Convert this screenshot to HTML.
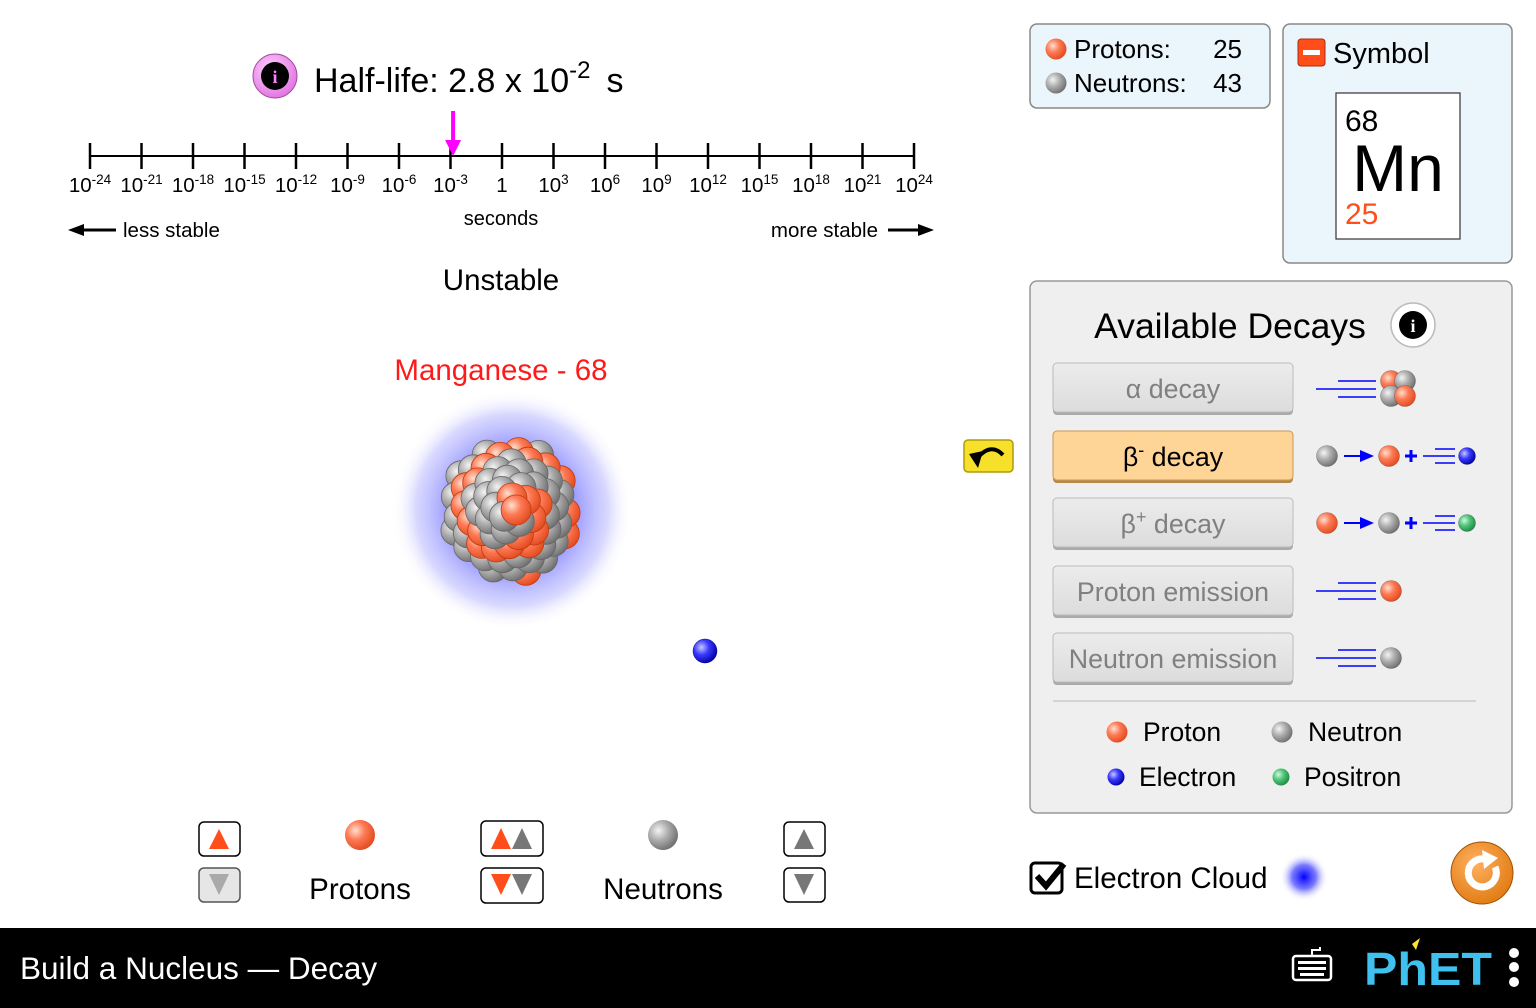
<!DOCTYPE html>
<html><head><meta charset="utf-8"><style>
html,body{margin:0;padding:0;width:1536px;height:1008px;overflow:hidden;background:#fff}
svg{display:block;font-family:"Liberation Sans",Arial,sans-serif}
</style></head><body>
<svg id="s" width="1536" height="1008" viewBox="0 0 1536 1008" xmlns="http://www.w3.org/2000/svg">
<defs>
<radialGradient id="gp" cx="0.35" cy="0.35" r="0.7"><stop offset="0" stop-color="#ffe0d0"/><stop offset="0.45" stop-color="#fd7a55"/><stop offset="1" stop-color="#e24a1e"/></radialGradient>
<radialGradient id="gn" cx="0.35" cy="0.35" r="0.7"><stop offset="0" stop-color="#f4f4f4"/><stop offset="0.45" stop-color="#b0b0b0"/><stop offset="1" stop-color="#6e6e6e"/></radialGradient>
<radialGradient id="ge" cx="0.35" cy="0.35" r="0.7"><stop offset="0" stop-color="#c8c8ff"/><stop offset="0.45" stop-color="#3a3aff"/><stop offset="1" stop-color="#0000a0"/></radialGradient>
<radialGradient id="gpo" cx="0.35" cy="0.35" r="0.7"><stop offset="0" stop-color="#d4f5de"/><stop offset="0.45" stop-color="#4fc87a"/><stop offset="1" stop-color="#1f8a45"/></radialGradient>
<radialGradient id="cloud" cx="0.5" cy="0.5" r="0.5"><stop offset="0" stop-color="#5a5aff"/><stop offset="0.5" stop-color="#8080ff" stop-opacity="0.85"/><stop offset="0.8" stop-color="#b0b0ff" stop-opacity="0.5"/><stop offset="1" stop-color="#ffffff" stop-opacity="0"/></radialGradient>
<radialGradient id="cloud2" cx="0.5" cy="0.5" r="0.5"><stop offset="0" stop-color="#0000ff"/><stop offset="0.5" stop-color="#4040ff" stop-opacity="0.7"/><stop offset="1" stop-color="#fff" stop-opacity="0"/></radialGradient>
<radialGradient id="greset" cx="0.4" cy="0.35" r="0.7"><stop offset="0" stop-color="#ffb060"/><stop offset="1" stop-color="#e07a10"/></radialGradient>
<radialGradient id="ginfo" cx="0.4" cy="0.35" r="0.7"><stop offset="0" stop-color="#ffd0ff"/><stop offset="1" stop-color="#e070e0"/></radialGradient>
<linearGradient id="gbtn" x1="0" y1="0" x2="0" y2="1"><stop offset="0" stop-color="#ececec"/><stop offset="1" stop-color="#dcdcdc"/></linearGradient>
</defs>

<g>
<circle cx="275" cy="76" r="22" fill="url(#ginfo)" stroke="#a050a0"/>
<circle cx="275" cy="76" r="14" fill="#000"/>
<text x="275" y="83" font-size="18" font-weight="bold" fill="#ff80ff" text-anchor="middle" font-family="Liberation Serif">i</text>
<text x="314" y="92" font-size="34">Half-life: 2.8 x 10<tspan dy="-14" font-size="24">-2</tspan><tspan dy="14" dx="16">s</tspan></text>
</g>
<g id="axis"></g>
<text x="501" y="225" font-size="20" text-anchor="middle">seconds</text>
<g>
<line x1="80" y1="230" x2="116" y2="230" stroke="#000" stroke-width="3"/><polygon points="68,230 84,224 84,236" fill="#000"/>
<text x="123" y="237" font-size="20.5">less stable</text></g>
<g>
<text x="878" y="237" font-size="20.5" text-anchor="end">more stable</text>
<line x1="888" y1="230" x2="924" y2="230" stroke="#000" stroke-width="3"/><polygon points="934,230 918,224 918,236" fill="#000"/></g>

<text x="501" y="290" font-size="29.5" text-anchor="middle">Unstable</text>
<text x="501" y="380" font-size="29.5" fill="#ff1a1a" text-anchor="middle">Manganese - 68</text>

<circle cx="512" cy="510" r="120" fill="url(#cloud)"/>
<g id="nuc"></g>
<circle cx="705" cy="651" r="12" fill="url(#ge)" stroke="#0000a0" stroke-width="0.5"/>

<g><rect x="199" y="822" width="41" height="34" rx="5" fill="#fff" stroke="#000" stroke-width="1.5"/><polygon points="219,829 229,849 209,849" fill="#ff4e1a"/></g>
<g><rect x="199" y="868" width="41" height="34" rx="5" fill="#e6e6e6" stroke="#555" stroke-width="1.5"/><polygon points="209,874 229,874 219,895" fill="#aaa"/></g>
<circle cx="360" cy="835" r="15" fill="url(#gp)"/>
<text x="360" y="899" font-size="29.5" text-anchor="middle">Protons</text>
<g><rect x="481" y="821" width="62" height="35" rx="5" fill="#fff" stroke="#000" stroke-width="1.5"/><polygon points="501,828 511,849 491,849" fill="#ff4e1a"/><polygon points="522,828 532,849 512,849" fill="#777"/></g>
<g><rect x="481" y="868" width="62" height="35" rx="5" fill="#fff" stroke="#000" stroke-width="1.5"/><polygon points="491,874 511,874 501,895" fill="#ff4e1a"/><polygon points="512,874 532,874 522,895" fill="#777"/></g>
<circle cx="663" cy="835" r="15" fill="url(#gn)"/>
<text x="663" y="899" font-size="29.5" text-anchor="middle">Neutrons</text>
<g><rect x="784" y="822" width="41" height="34" rx="5" fill="#fff" stroke="#000" stroke-width="1.5"/><polygon points="804,829 814,849 794,849" fill="#777"/></g>
<g><rect x="784" y="868" width="41" height="34" rx="5" fill="#fff" stroke="#000" stroke-width="1.5"/><polygon points="794,874 814,874 804,895" fill="#777"/></g>

<g>
<rect x="1030" y="24" width="240" height="84" rx="7" fill="#ebf6fc" stroke="#888" stroke-width="1.5"/>
<circle cx="1056" cy="49" r="10.5" fill="url(#gp)"/><text x="1074" y="58" font-size="26">Protons:</text><text x="1242" y="58" font-size="26" text-anchor="end">25</text>
<circle cx="1056" cy="83" r="10.5" fill="url(#gn)"/><text x="1074" y="92" font-size="26">Neutrons:</text><text x="1242" y="92" font-size="26" text-anchor="end">43</text>
</g>
<g>
<rect x="1283" y="24" width="229" height="239" rx="7" fill="#ebf6fc" stroke="#888" stroke-width="1.5"/>
<g><rect x="1298" y="39" width="27" height="27" rx="3" fill="#ff4e1a" stroke="#a03010"/><rect x="1303" y="50" width="17" height="5" fill="#fff"/></g>
<text x="1333" y="63" font-size="29">Symbol</text>
<rect x="1336" y="93" width="124" height="146" fill="#fff" stroke="#333" stroke-width="1.2"/>
<text x="1345" y="131" font-size="30">68</text>
<text x="1398" y="191" font-size="66" text-anchor="middle">Mn</text>
<text x="1345" y="224" font-size="30" fill="#ff4e1a">25</text>
</g>

<g>
<rect x="964" y="440" width="49" height="32" rx="4" fill="#f6e02a" stroke="#b09a10" stroke-width="1.5"/>
<path d="M975,461 Q990,441 1003,455" fill="none" stroke="#000" stroke-width="4"/>
<polygon points="969,454 983,451 978,468" fill="#000"/>
</g>

<g>
<rect x="1030" y="281" width="482" height="532" rx="7" fill="#efefef" stroke="#999" stroke-width="1.5"/>
<text x="1230" y="338" font-size="35.5" text-anchor="middle">Available Decays</text>
<g><circle cx="1413" cy="325" r="22" fill="#fff" stroke="#bbb" stroke-width="1.5"/><circle cx="1413" cy="325" r="14" fill="#000"/><text x="1413" y="332" font-size="18" font-weight="bold" fill="#fff" text-anchor="middle" font-family="Liberation Serif">i</text></g>
<g id="btns"></g>
<line x1="1053" y1="701" x2="1476" y2="701" stroke="#ccc" stroke-width="1.5"/>
<g>
<circle cx="1117" cy="732" r="10.5" fill="url(#gp)"/><text x="1143" y="741" font-size="26.5">Proton</text>
<circle cx="1282" cy="732" r="10.5" fill="url(#gn)"/><text x="1308" y="741" font-size="26.5">Neutron</text>
<circle cx="1116" cy="777" r="8.5" fill="url(#ge)"/><text x="1139" y="786" font-size="26.5">Electron</text>
<circle cx="1281" cy="777" r="8.5" fill="url(#gpo)"/><text x="1304" y="786" font-size="26.5">Positron</text>
</g>
</g>

<g>
<rect x="1031" y="863" width="31" height="30" rx="4" fill="#fff" stroke="#000" stroke-width="3"/>
<path d="M1037,876 L1046,886 L1064,864" fill="none" stroke="#000" stroke-width="6"/>
<text x="1074" y="888" font-size="29.5">Electron Cloud</text>
<circle cx="1304" cy="877" r="24" fill="url(#cloud2)"/>
</g>
<g>
<circle cx="1482" cy="873" r="31" fill="url(#greset)" stroke="#a05008"/>
<path d="M1495,867 A14,14 0 1 1 1484,859" fill="none" stroke="#fff" stroke-width="7"/>
<polygon points="1482,850 1498,858 1484,869" fill="#fff"/>
</g>

<rect x="0" y="928" width="1536" height="80" fill="#000"/>
<text x="20" y="979" font-size="31.5" fill="#fff">Build a Nucleus — Decay</text>
<g>
<rect x="1293" y="956" width="38" height="24" rx="3" fill="none" stroke="#fff" stroke-width="2.5"/>
<path d="M1312,955 v-5 h8 v-3" fill="none" stroke="#fff" stroke-width="2"/>
<g fill="#fff"><rect x="1298" y="961" width="28" height="3"/><rect x="1298" y="967" width="28" height="3"/><rect x="1300" y="973" width="24" height="3"/></g>
</g>
<g>
<text x="1364" y="985" font-size="46" font-weight="bold" fill="#3fc0ee" textLength="128" lengthAdjust="spacingAndGlyphs">PhET</text>
<polygon points="1412,944 1420,938 1416,950" fill="#fde32a"/>
<circle cx="1514" cy="953" r="5" fill="#fff"/><circle cx="1514" cy="967" r="5" fill="#fff"/><circle cx="1514" cy="982" r="5" fill="#fff"/>
</g>
</svg>
<script>
const tickExponents = [-24,-21,-18,-15,-12,-9,-6,-3,0,3,6,9,12,15,18,21,24];
const tickLabels = ["10-24","10-21","10-18","10-15","10-12","10-9","10-6","10-3","1","103","106","109","1012","1015","1018","1021","1024"];
const halfLifeLog = [-2.85];

const NS='http://www.w3.org/2000/svg';
function mk(tag,attrs,parent){const e=document.createElementNS(NS,tag);for(const k in attrs)e.setAttribute(k,attrs[k]);parent.appendChild(e);return e;}
const x0=90,x1=914,dmin=-24,dmax=24,axisY=156;
function xScale(v){return x0+(v-dmin)/(dmax-dmin)*(x1-x0);}
const ax=document.getElementById('axis');
const base=mk('line',{x1:x0,y1:axisY,x2:x1,y2:axisY,stroke:'#000','stroke-width':2},ax);


tickExponents.forEach((e,i)=>{
  const x=xScale(e);
  const t=mk('line',{x1:x,y1:axisY-13,x2:x,y2:axisY+13,stroke:'#000','stroke-width':2.5},ax);
  
  
  const lb=mk('text',{x:x,y:192,'font-size':20.5,'text-anchor':'middle'},ax);
  
  
  if(e===0){lb.textContent='1';}
  else{lb.appendChild(document.createTextNode('10'));const sp=mk('tspan',{dy:-8,'font-size':13.5},lb);sp.textContent=tickLabels[i].slice(2);}
});
halfLifeLog.forEach(v=>{
  const x=xScale(v);
  const g=mk('g',{},ax);
  
  
  mk('line',{x1:x,y1:111,x2:x,y2:143,stroke:'#ff00ff','stroke-width':4},g);
  mk('polygon',{points:`${x-8},140 ${x+8},140 ${x},156`,fill:'#ff00ff'},g);
});

const nuc=document.getElementById('nuc');
const spheres=[];
for(let i=0;i<68;i++){
  const ang=i*2.39996, rr=Math.sqrt((i+0.5)/68)*60;
  spheres.push({x:511+Math.cos(ang)*rr, y:510+Math.sin(ang)*rr*1.05, p:((i*7)%11)<4});
}
spheres.sort((a,b)=>Math.hypot(b.x-511,b.y-510)-Math.hypot(a.x-511,a.y-510));
spheres.forEach(s=>{
  const c=mk('circle',{cx:s.x.toFixed(1),cy:s.y.toFixed(1),r:15,fill:s.p?'url(#gp)':'url(#gn)',stroke:s.p?'#c03a10':'#666','stroke-width':0.8},nuc);
  
  
});

const btns=document.getElementById('btns');
const decays=[{t:'α decay',y:363},{t:'β',sup:'-',y:431,on:true},{t:'β',sup:'+',y:498},{t:'Proton emission',y:566},{t:'Neutron emission',y:633}];
const names=['alpha-decay-button','beta-minus-decay-button','beta-plus-decay-button','proton-emission-button','neutron-emission-button'];
decays.forEach((d,i)=>{
  const g=mk('g',{},btns);
  
  
  mk('rect',{x:1053,y:d.y+2,width:240,height:50,rx:4,fill:d.on?'#b8884a':'#aaa'},g);
  mk('rect',{x:1053,y:d.y,width:240,height:49,rx:4,fill:d.on?'#ffd497':'url(#gbtn)',stroke:d.on?'#c89a55':'#bbb'},g);
  const tx=mk('text',{x:1173,y:d.y+35,'font-size':26.8,'text-anchor':'middle',fill:d.on?'#000':'#808080'},g);
  if(d.sup){tx.appendChild(document.createTextNode('β'));const s=mk('tspan',{dy:-10,'font-size':18},tx);s.textContent=d.sup;const r=mk('tspan',{dy:10},tx);r.textContent=' decay';}
  else tx.textContent=d.t;
});
function lines(x,y,g){mk('line',{x1:x,y1:y,x2:x+60,y2:y,stroke:'#0000ff','stroke-width':1.5},g);mk('line',{x1:x+22,y1:y-8,x2:x+60,y2:y-8,stroke:'#0000ff','stroke-width':1.5},g);mk('line',{x1:x+22,y1:y+8,x2:x+60,y2:y+8,stroke:'#0000ff','stroke-width':1.5},g);}
function sh(x,y){mk('line',{x1:x,y1:y,x2:x+32,y2:y,stroke:'#0000ff','stroke-width':1.5},btns);mk('line',{x1:x+12,y1:y-7,x2:x+32,y2:y-7,stroke:'#0000ff','stroke-width':1.5},btns);mk('line',{x1:x+12,y1:y+7,x2:x+32,y2:y+7,stroke:'#0000ff','stroke-width':1.5},btns);}
function ball(x,y,r,f){mk('circle',{cx:x,cy:y,r:r,fill:f,stroke:'rgba(0,0,0,0.3)','stroke-width':0.6},btns);}
function arrow(x,y){mk('line',{x1:x,y1:y,x2:x+20,y2:y,stroke:'#0000ff','stroke-width':2},btns);mk('polygon',{points:`${x+16},${y-6} ${x+30},${y} ${x+16},${y+6}`,fill:'#0000ff'},btns);}
function plus(x,y){mk('line',{x1:x-6,y1:y,x2:x+6,y2:y,stroke:'#0000ff','stroke-width':3},btns);mk('line',{x1:x,y1:y-6,x2:x,y2:y+6,stroke:'#0000ff','stroke-width':3},btns);}
lines(1316,389,btns);ball(1391,381,10.5,'url(#gp)');ball(1405,381,10.5,'url(#gn)');ball(1391,396,10.5,'url(#gn)');ball(1405,396,10.5,'url(#gp)');
ball(1327,456,10.5,'url(#gn)');arrow(1344,456);ball(1389,456,10.5,'url(#gp)');plus(1411,456);sh(1423,456);ball(1467,456,8.5,'url(#ge)');
ball(1327,523,10.5,'url(#gp)');arrow(1344,523);ball(1389,523,10.5,'url(#gn)');plus(1411,523);sh(1423,523);ball(1467,523,8.5,'url(#gpo)');
lines(1316,591,btns);ball(1391,591,10.5,'url(#gp)');
lines(1316,658,btns);ball(1391,658,10.5,'url(#gn)');
</script>
</body></html>
